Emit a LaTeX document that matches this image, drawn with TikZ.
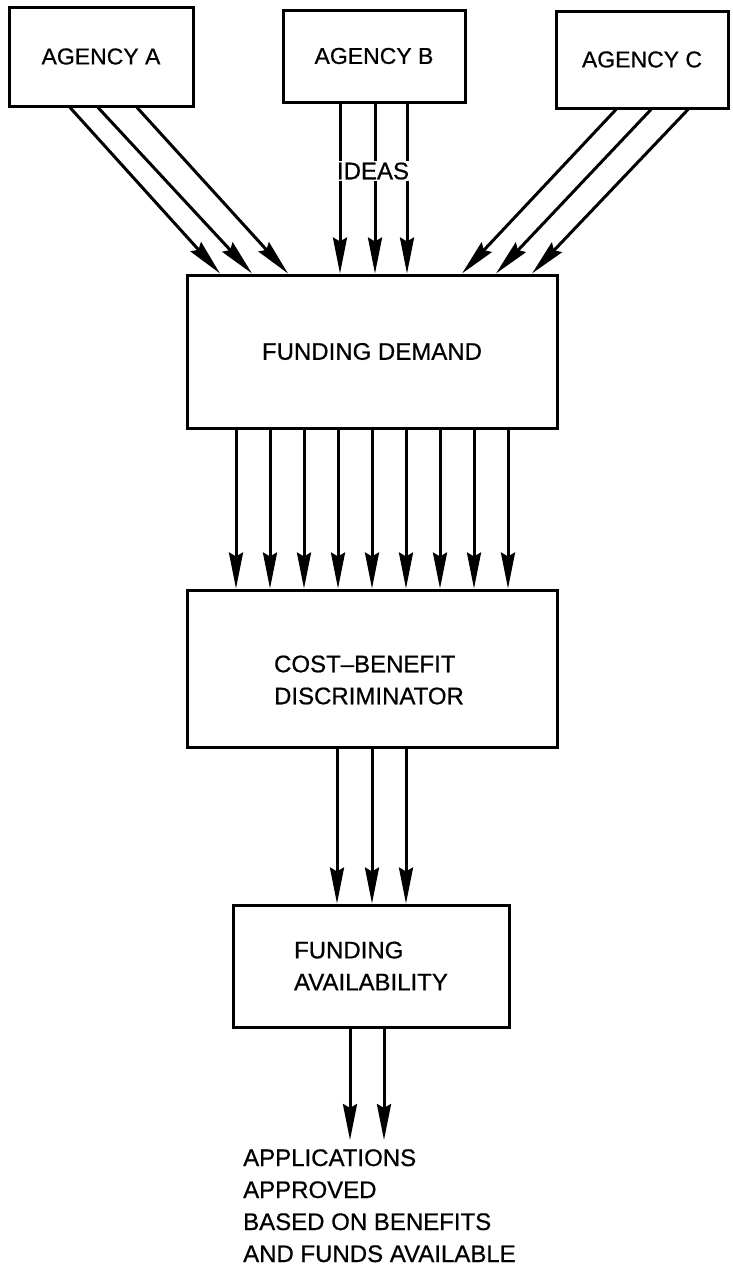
\documentclass[tikz,border=0pt]{standalone}
\usepackage{fontspec}
\setmainfont{Liberation Sans}[FakeBold=0.6]
\usetikzlibrary{arrows.meta}
\begin{document}
\begin{tikzpicture}[x=1pt,y=-1pt,
  box/.style={draw, line width=3pt, inner sep=0pt, align=center, font=\fontsize{24}{32}\selectfont},
  agfont/.style={font=\fontsize{23}{27}\selectfont},
  txt/.style={inner sep=0pt, font=\fontsize{24}{32}\selectfont},
  flow/.style={line width=3pt, -{Stealth[length=36pt,width=14pt,inset=4pt]}}]
\path[use as bounding box, fill=white] (0,0) rectangle (733,1269);

% boxes
\node[box, agfont, minimum width=184pt, minimum height=99pt] (A) at (101,56.5) {AGENCY A};
\node[box, agfont, minimum width=182pt, minimum height=92pt] (B) at (374,56) {AGENCY B};
\node[box, agfont, minimum width=172pt, minimum height=97pt] (C) at (642,59.5) {AGENCY C};
\node[box, minimum width=370pt, minimum height=153pt] (FD) at (372,351.5) {FUNDING DEMAND};
\node[box, minimum width=370pt, minimum height=157pt] (CB) at (372,668.5) {};
\node[txt, align=left] (CBT) at (369,680) {COST\textendash BENEFIT\\DISCRIMINATOR};
\node[box, align=left, minimum width=276pt, minimum height=122pt] (FA) at (371,966) {FUNDING\\AVAILABILITY};

% output text
\node[txt, anchor=base west] (L1) at (243,1166) {APPLICATIONS};
\node[txt, anchor=base west] (L2) at (243,1198) {APPROVED};
\node[txt, anchor=base west] (L3) at (243,1230) {BASED ON BENEFITS};
\node[txt, anchor=base west] (L4) at (243,1262) {AND FUNDS AVAILABLE};
\coordinate (O1) at (350,1140);
\coordinate (O2) at (384,1140);

% connectors
\foreach \s/\e in {-31/-152, -3/-120, 36/-84}
  \draw[flow] ([xshift=\s pt]A.south) -- ([xshift=\e pt]FD.north);
\foreach \s/\e in {-34/-32, 1/3, 33/35}
  \draw[flow] ([xshift=\s pt]B.south) -- ([xshift=\e pt]FD.north);
\foreach \s/\e in {-26/90, 9/124, 46/160}
  \draw[flow] ([xshift=\s pt]C.south) -- ([xshift=\e pt]FD.north);
\foreach \s in {-136,-102,-68,-34,0,34,68,102,136}
  \draw[flow] ([xshift=\s pt]FD.south) -- ([xshift=\s pt]CB.north);
\foreach \s/\e in {-35/-34, 0/1, 34/35}
  \draw[flow] ([xshift=\s pt]CB.south) -- ([xshift=\e pt]FA.north);
\draw[flow] ([xshift=-21pt]FA.south) -- (O1);
\draw[flow] ([xshift=13pt]FA.south) -- (O2);

\node[txt, fill=white, inner sep=2pt] (IDEAS) at (373,171) {IDEAS};
\end{tikzpicture}
\end{document}
